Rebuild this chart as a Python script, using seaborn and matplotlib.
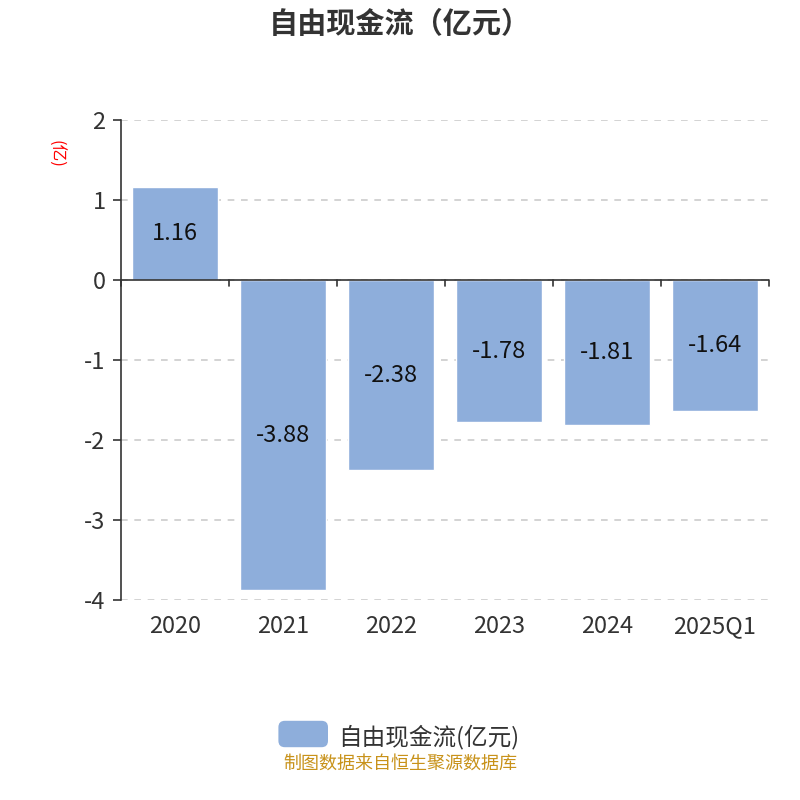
import matplotlib
matplotlib.use("Agg")
import matplotlib.pyplot as plt
import seaborn as sns
import pandas as pd
from matplotlib.patches import FancyBboxPatch

years = ["2020", "2021", "2022", "2023", "2024", "2025Q1"]
fcf = [1.16, -3.88, -2.38, -1.78, -1.81, -1.64]
bar_labels = ["1.16", "-3.88", "-2.38", "-1.78", "-1.81", "-1.64"]
y_ticks = [2, 1, 0, -1, -2, -3, -4]

sns.set_theme(style="white")
plt.rcParams['font.family'] = ['Noto Sans CJK SC', 'DejaVu Sans']

bar_color = "#8eaedb"
text_color = "#333333"

df = pd.DataFrame({"year": years, "value": fcf})

fig = plt.figure(figsize=(8, 8), dpi=100)
ax = fig.add_axes([0.151, 0.25, 0.81, 0.6])

sns.barplot(data=df, x="year", y="value", color=bar_color, saturation=1,
            width=0.8, ax=ax)

ax.set_ylim(-4, 2)
ax.set_xlim(-0.5, len(years) - 0.5)
ax.set_yticks(y_ticks)
ax.set_yticklabels([str(t) for t in y_ticks], fontsize=17, color=text_color)
ax.set_xticks(range(len(years)))
ax.set_xticklabels(years, fontsize=17, color=text_color)
ax.tick_params(axis="x", length=0, pad=11)
ax.tick_params(axis="y", length=6, width=1.2, color=text_color, direction="out", left=True, pad=5)
ax.set_xlabel("")
ax.set_ylabel("")

for t in y_ticks:
    ax.axhline(t, color="#cccccc", linestyle=(0, (4, 4)), linewidth=1.2, zorder=0)

for s in ["top", "right", "bottom"]:
    ax.spines[s].set_visible(False)
ax.spines["left"].set_color(text_color)
ax.spines["left"].set_linewidth(1.2)

# category axis line at zero with boundary ticks
ax.axhline(0, color=text_color, linewidth=1.2, zorder=3)
for i in range(len(years) + 1):
    ax.plot([i - 0.5, i - 0.5], [0, -0.08], color=text_color, linewidth=1.2,
            clip_on=False, zorder=3)

for i, (v, lab) in enumerate(zip(fcf, bar_labels)):
    ax.text(i, v / 2, lab, ha="center", va="center", fontsize=17, color="#111111")

ax.text(-0.102, 0.929, "(亿)", transform=ax.transAxes, rotation=-90,
        ha="center", va="center", fontsize=12, color="red")

fig.text(0.5, 0.970, "自由现金流（亿元）", ha="center", va="center",
         fontsize=21, fontweight="bold", color=text_color)

# legend
patch = FancyBboxPatch((0.348, 0.066), 0.062, 0.033, transform=fig.transFigure,
                       boxstyle="round,pad=0,rounding_size=0.008",
                       facecolor=bar_color, edgecolor="none")
fig.patches.append(patch)
fig.text(0.423, 0.079, "自由现金流(亿元)", ha="left", va="center",
         fontsize=17, color=text_color)

fig.text(0.5, 0.046, "制图数据来自恒生聚源数据库", ha="center", va="center",
         fontsize=13, color="#c8921a")

fig.savefig("out.png", dpi=100)
